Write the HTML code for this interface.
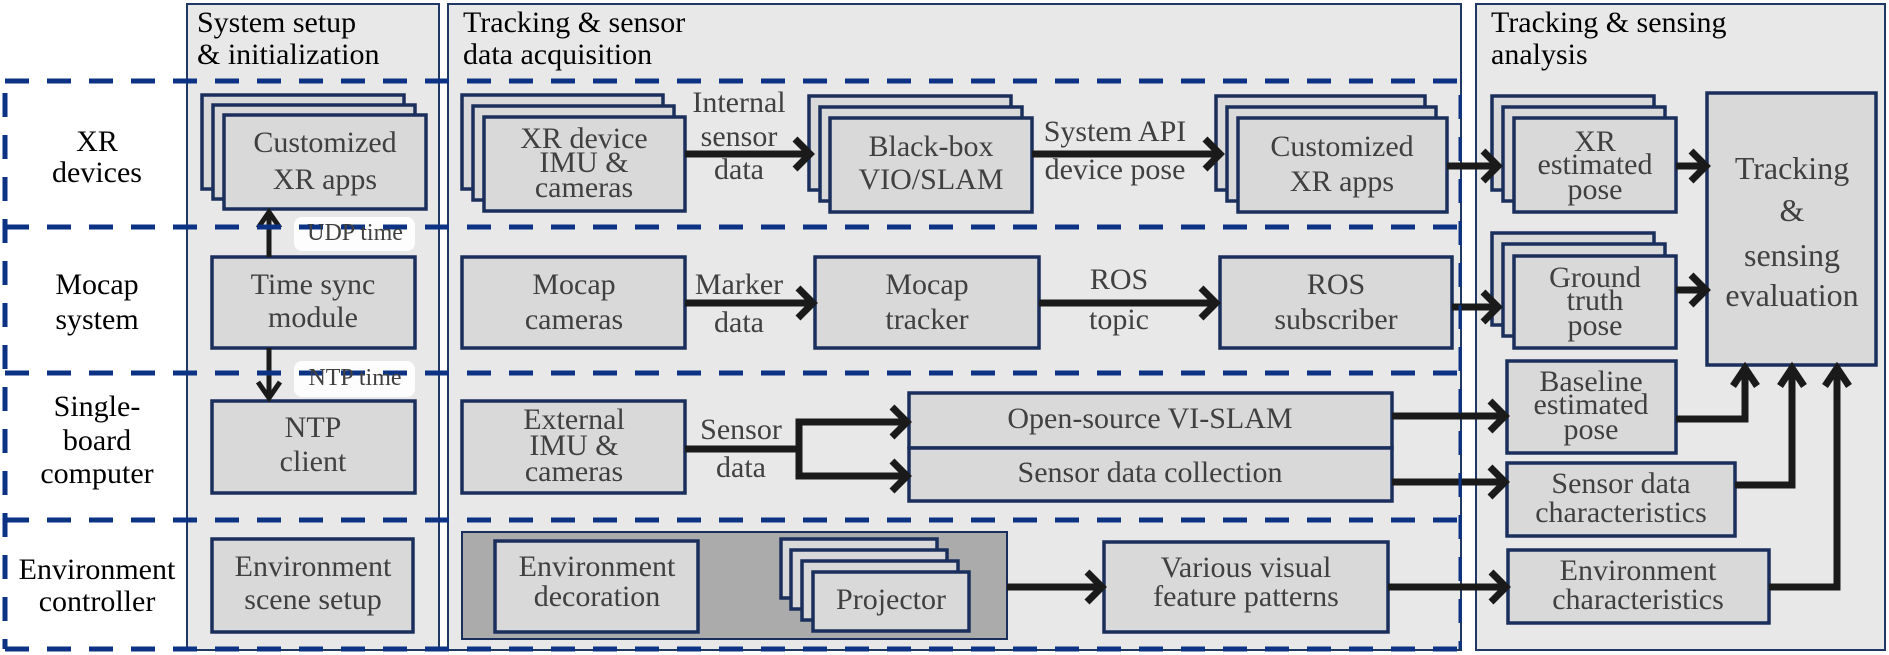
<!DOCTYPE html>
<html><head><meta charset="utf-8"><style>
html,body{margin:0;padding:0;background:#fff}
#w{position:relative;width:1889px;height:655px;overflow:hidden}
svg{display:block;position:absolute;left:0;top:0}
.x{position:absolute;font-family:"Liberation Serif","Times New Roman",serif;font-size:30px;line-height:30px;white-space:nowrap}
.c{width:400px;text-align:center;color:#404040}
.k{color:#000}
.bx{fill:#d9d9d9;stroke:#1b2f5c;stroke-width:3.5}
.a{stroke:#1a1a1a;stroke-width:7;fill:none}
.ah{stroke:#1a1a1a;stroke-width:7;fill:none;stroke-linejoin:miter}
.d{stroke:#0b3283;stroke-width:5;fill:none;stroke-dasharray:24 18}
.p{fill:#e8e8e8;stroke:#1f3864;stroke-width:2}
</style></head><body><div id="w">
<svg width="1889" height="655" viewBox="0 0 1889 655" xmlns="http://www.w3.org/2000/svg">
<rect class="p" x="187" y="4" width="252" height="646"/>
<rect class="p" x="448" y="4" width="1013" height="646"/>
<rect class="p" x="1476" y="4" width="409" height="646"/>

<rect class="bx" x="202" y="95" width="202" height="94"/>
<rect class="bx" x="213" y="105" width="202" height="94"/>
<rect class="bx" x="224" y="115" width="202" height="94"/>
<rect class="bx" x="462" y="95" width="201" height="94"/>
<rect class="bx" x="473" y="106" width="201" height="94"/>
<rect class="bx" x="484" y="117" width="201" height="94"/>
<rect class="bx" x="809" y="96" width="202" height="94"/>
<rect class="bx" x="820" y="107" width="202" height="94"/>
<rect class="bx" x="830" y="118" width="202" height="94"/>
<rect class="bx" x="1216" y="96" width="209" height="94"/>
<rect class="bx" x="1227" y="107" width="209" height="94"/>
<rect class="bx" x="1238" y="118" width="209" height="94"/>
<rect class="bx" x="1492" y="96" width="162" height="94"/>
<rect class="bx" x="1503" y="107" width="162" height="94"/>
<rect class="bx" x="1514" y="118" width="162" height="94"/>
<rect class="bx" x="1707" y="93" width="169" height="272"/>

<rect class="bx" x="212" y="257" width="203" height="91"/>
<rect class="bx" x="462" y="257" width="223" height="91"/>
<rect class="bx" x="815" y="257" width="224" height="91"/>
<rect class="bx" x="1220" y="257" width="232" height="91"/>
<rect class="bx" x="1492" y="233" width="162" height="92"/>
<rect class="bx" x="1503" y="244" width="162" height="92"/>
<rect class="bx" x="1514" y="256" width="162" height="92"/>

<rect class="bx" x="212" y="401" width="203" height="92"/>
<rect class="bx" x="462" y="401" width="223" height="92"/>
<rect class="bx" x="909" y="393" width="483" height="55"/>
<rect class="bx" x="909" y="448" width="483" height="53"/>
<rect class="bx" x="1507" y="361" width="169" height="92"/>
<rect class="bx" x="1507" y="463" width="228" height="73"/>

<rect class="bx" x="212" y="539" width="201" height="93"/>
<rect x="462" y="532" width="545" height="107" fill="#ababab" stroke="#1b2f5c" stroke-width="2"/>
<rect class="bx" x="495" y="541" width="203" height="91"/>
<rect class="bx" x="781" y="539" width="156" height="59"/>
<rect class="bx" x="791" y="550" width="156" height="59"/>
<rect class="bx" x="802" y="561" width="156" height="59"/>
<rect class="bx" x="813" y="572" width="156" height="59"/>
<rect class="bx" x="1104" y="542" width="284" height="90"/>
<rect class="bx" x="1508" y="550" width="261" height="73"/>

<line class="a" x1="685" y1="154" x2="808" y2="154"/><polyline class="ah" points="795,139 810,154 795,169"/>
<line class="a" x1="1032" y1="154" x2="1218" y2="154"/><polyline class="ah" points="1205,139 1220,154 1205,169"/>
<line class="a" x1="1447" y1="166" x2="1496" y2="166"/><polyline class="ah" points="1483,151 1498,166 1483,181"/>
<line class="a" x1="1676" y1="166" x2="1704" y2="166"/><polyline class="ah" points="1691,151 1706,166 1691,181"/>
<line class="a" x1="685" y1="303" x2="811" y2="303"/><polyline class="ah" points="798,288 813,303 798,318"/>
<line class="a" x1="1039" y1="303" x2="1214" y2="303"/><polyline class="ah" points="1201,288 1216,303 1201,318"/>
<line class="a" x1="1452" y1="307" x2="1496" y2="307"/><polyline class="ah" points="1483,292 1498,307 1483,322"/>
<line class="a" x1="1676" y1="290" x2="1704" y2="290"/><polyline class="ah" points="1691,275 1706,290 1691,305"/>
<line x1="269" y1="257" x2="269" y2="214" stroke="#1a1a1a" stroke-width="5"/>
<polyline points="258,228 269,212 280,228" stroke="#1a1a1a" stroke-width="5" fill="none"/>
<rect x="294" y="217" width="121" height="34" rx="8" fill="#fff" opacity="0.9"/>
<line x1="269" y1="348" x2="269" y2="396" stroke="#1a1a1a" stroke-width="5"/>
<polyline points="258,382 269,398 280,382" stroke="#1a1a1a" stroke-width="5" fill="none"/>
<rect x="294" y="361" width="121" height="36" rx="8" fill="#fff" opacity="0.9"/>
<polyline class="a" points="685,449 799,449"/>
<polyline class="a" points="905,422 799,422 799,476 905,476"/>
<polyline class="ah" points="892,407 907,422 892,437"/><polyline class="ah" points="892,461 907,476 892,491"/>
<line class="a" x1="1392" y1="416" x2="1503" y2="416"/><polyline class="ah" points="1490,401 1505,416 1490,431"/>
<line class="a" x1="1392" y1="482" x2="1503" y2="482"/><polyline class="ah" points="1490,467 1505,482 1490,497"/>
<line class="a" x1="1007" y1="587" x2="1100" y2="587"/><polyline class="ah" points="1087,572 1102,587 1087,602"/>
<line class="a" x1="1388" y1="587" x2="1504" y2="587"/><polyline class="ah" points="1491,572 1506,587 1491,602"/>
<polyline class="a" points="1676,419 1745,419 1745,370"/>
<polyline class="ah" points="1733,386 1745,368 1757,386"/>
<polyline class="a" points="1735,485 1792,485 1792,370"/>
<polyline class="ah" points="1780,386 1792,368 1804,386"/>
<polyline class="a" points="1769,587 1837,587 1837,370"/>
<polyline class="ah" points="1825,386 1837,368 1849,386"/>

<line class="d" x1="5" y1="81" x2="1461" y2="81"/>
<line class="d" x1="5" y1="227" x2="1461" y2="227"/>
<line class="d" x1="5" y1="373" x2="1461" y2="373"/>
<line class="d" x1="5" y1="520" x2="1461" y2="520"/>
<line class="d" x1="5" y1="649" x2="1461" y2="649"/>
<line class="d" x1="5" y1="93" x2="5" y2="649"/>
<line class="d" x1="1460" y1="95" x2="1460" y2="649" style="stroke-width:3"/>
</svg>

<!-- headers (top = baseline - 25) -->
<div class="x k" style="left:197px;top:8px">System setup</div>
<div class="x k" style="left:197px;top:40px">&amp; initialization</div>
<div class="x k" style="left:463px;top:8px">Tracking &amp; sensor</div>
<div class="x k" style="left:463px;top:40px">data acquisition</div>
<div class="x k" style="left:1491px;top:8px">Tracking &amp; sensing</div>
<div class="x k" style="left:1491px;top:40px">analysis</div>

<!-- row labels -->
<div class="x c k" style="left:-103px;top:127px">XR</div>
<div class="x c k" style="left:-103px;top:158px">devices</div>
<div class="x c k" style="left:-103px;top:270px">Mocap</div>
<div class="x c k" style="left:-103px;top:305px">system</div>
<div class="x c k" style="left:-103px;top:392px">Single-</div>
<div class="x c k" style="left:-103px;top:426px">board</div>
<div class="x c k" style="left:-103px;top:459px">computer</div>
<div class="x c k" style="left:-103px;top:555px">Environment</div>
<div class="x c k" style="left:-103px;top:587px">controller</div>

<!-- box texts -->
<div class="x c" style="left:125px;top:128px">Customized</div>
<div class="x c" style="left:125px;top:165px">XR apps</div>
<div class="x c" style="left:384px;top:124px">XR device</div>
<div class="x c" style="left:384px;top:148px">IMU &amp;</div>
<div class="x c" style="left:384px;top:173px">cameras</div>
<div class="x c" style="left:731px;top:132px">Black-box</div>
<div class="x c" style="left:731px;top:165px">VIO/SLAM</div>
<div class="x c" style="left:1142px;top:132px">Customized</div>
<div class="x c" style="left:1142px;top:167px">XR apps</div>
<div class="x c" style="left:1395px;top:127px">XR</div>
<div class="x c" style="left:1395px;top:150px">estimated</div>
<div class="x c" style="left:1395px;top:175px">pose</div>
<div class="x c" style="left:1592px;top:152px;font-size:32px;line-height:32px">Tracking</div>
<div class="x c" style="left:1592px;top:194px;font-size:32px;line-height:32px">&amp;</div>
<div class="x c" style="left:1592px;top:239px;font-size:32px;line-height:32px">sensing</div>
<div class="x c" style="left:1592px;top:279px;font-size:32px;line-height:32px">evaluation</div>

<div class="x c" style="left:113px;top:270px">Time sync</div>
<div class="x c" style="left:113px;top:303px">module</div>
<div class="x c" style="left:374px;top:270px">Mocap</div>
<div class="x c" style="left:374px;top:305px">cameras</div>
<div class="x c" style="left:727px;top:270px">Mocap</div>
<div class="x c" style="left:727px;top:305px">tracker</div>
<div class="x c" style="left:1136px;top:270px">ROS</div>
<div class="x c" style="left:1136px;top:305px">subscriber</div>
<div class="x c" style="left:1395px;top:263px">Ground</div>
<div class="x c" style="left:1395px;top:286px">truth</div>
<div class="x c" style="left:1395px;top:311px">pose</div>

<div class="x c" style="left:113px;top:413px">NTP</div>
<div class="x c" style="left:113px;top:447px">client</div>
<div class="x c" style="left:374px;top:405px">External</div>
<div class="x c" style="left:374px;top:431px">IMU &amp;</div>
<div class="x c" style="left:374px;top:457px">cameras</div>
<div class="x c" style="left:950px;top:404px">Open-source VI-SLAM</div>
<div class="x c" style="left:950px;top:458px">Sensor data collection</div>
<div class="x c" style="left:1391px;top:367px">Baseline</div>
<div class="x c" style="left:1391px;top:390px">estimated</div>
<div class="x c" style="left:1391px;top:415px">pose</div>
<div class="x c" style="left:1421px;top:469px">Sensor data</div>
<div class="x c" style="left:1421px;top:498px">characteristics</div>

<div class="x c" style="left:113px;top:552px">Environment</div>
<div class="x c" style="left:113px;top:585px">scene setup</div>
<div class="x c" style="left:397px;top:552px">Environment</div>
<div class="x c" style="left:397px;top:582px">decoration</div>
<div class="x c" style="left:691px;top:585px">Projector</div>
<div class="x c" style="left:1046px;top:553px">Various visual</div>
<div class="x c" style="left:1046px;top:582px">feature patterns</div>
<div class="x c" style="left:1438px;top:556px">Environment</div>
<div class="x c" style="left:1438px;top:585px">characteristics</div>

<!-- arrow labels -->
<div class="x c" style="left:539px;top:88px">Internal</div>
<div class="x c" style="left:539px;top:122px">sensor</div>
<div class="x c" style="left:539px;top:155px">data</div>
<div class="x c" style="left:915px;top:117px">System API</div>
<div class="x c" style="left:915px;top:155px">device pose</div>
<div class="x c" style="left:539px;top:270px">Marker</div>
<div class="x c" style="left:539px;top:308px">data</div>
<div class="x c" style="left:919px;top:265px">ROS</div>
<div class="x c" style="left:919px;top:305px">topic</div>
<div class="x c" style="left:541px;top:415px">Sensor</div>
<div class="x c" style="left:541px;top:453px">data</div>
<div class="x c" style="left:155px;top:221px;font-size:24px;line-height:24px">UDP time</div>
<div class="x c" style="left:155px;top:366px;font-size:24px;line-height:24px">NTP time</div>
</div>
</body></html>
